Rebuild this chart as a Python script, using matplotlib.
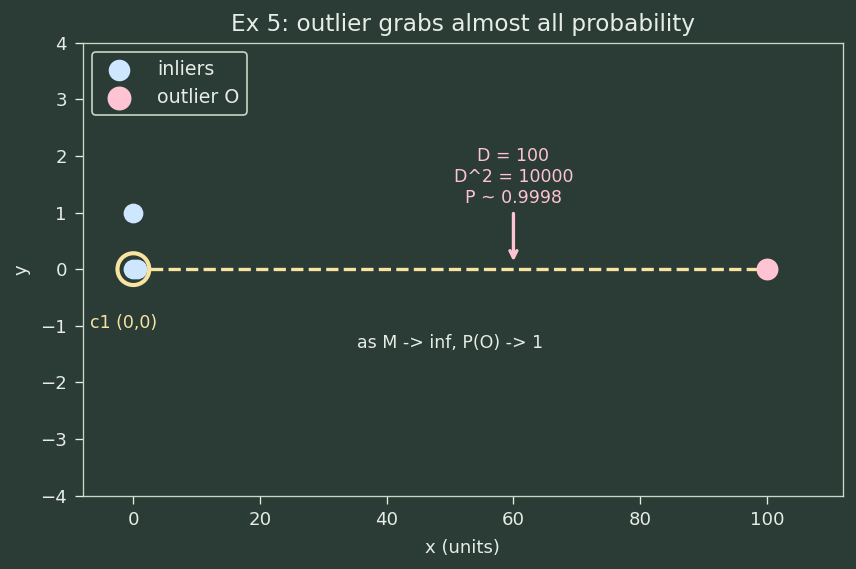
import numpy as np
import matplotlib.pyplot as plt

# data
inlier_x = [0.0, 0.0, 0.6]
inlier_y = [0.0, 1.0, 0.0]
outlier_x = [100.0]
outlier_y = [0.0]
center = (0.0, 0.0)
D = 100
D2 = 10000
P = 0.9998

bg = '#2a3c35'
fg = '#e6ece6'
yellow = '#f9e3a0'
pink = '#ffc4d4'

dpi = 119
fig = plt.figure(figsize=(856 / dpi, 569 / dpi), dpi=dpi, facecolor=bg)
ax = fig.add_axes([0.0966, 0.129, 0.888, 0.796])
ax.set_facecolor(bg)

ax.plot([center[0], outlier_x[0]], [center[1], outlier_y[0]], '--', color=yellow, lw=2, zorder=1)
ax.scatter(inlier_x, inlier_y, s=120, color='#cfe6ff', zorder=3, label='inliers')
ax.scatter(outlier_x, outlier_y, s=150, color=pink, zorder=3, label='outlier O')
ax.scatter([center[0]], [center[1]], s=370, facecolor='none', edgecolor=yellow, lw=2.5, zorder=4)

ax.text(-6.8, -0.95, 'c1 (0,0)', color=yellow, fontsize=10.5, ha='left', va='center')
ax.text(50, -1.3, 'as M -> inf, P(O) -> 1', color=fg, fontsize=10.5, ha='center', va='center')
ax.annotate(f'D = {D}\nD^2 = {D2}\nP ~ {P}', xy=(60, 0.08), xytext=(60, 1.1),
            ha='center', va='bottom', color=pink, fontsize=10.5,
            arrowprops=dict(arrowstyle='->', color=pink, lw=2))

ax.set_xlim(-8, 112)
ax.set_ylim(-4, 4)
ax.set_xticks([0, 20, 40, 60, 80, 100])
ax.set_title('Ex 5: outlier grabs almost all probability', color=fg, fontsize=14, pad=7)
ax.set_xlabel('x (units)', color=fg, fontsize=11, labelpad=6)
ax.set_ylabel('y', color=fg, fontsize=11, labelpad=6)
ax.tick_params(colors=fg, labelsize=11, length=5, pad=4.5)
for s in ax.spines.values():
    s.set_color('#c8d8c8')

leg = ax.legend(loc='upper left', fontsize=11.5, facecolor=bg, edgecolor='#c8d8c8',
                framealpha=1, markerscale=1.1, handletextpad=1.0)
for t in leg.get_texts():
    t.set_color(fg)

fig.savefig('out.png', dpi=dpi, facecolor=bg)
